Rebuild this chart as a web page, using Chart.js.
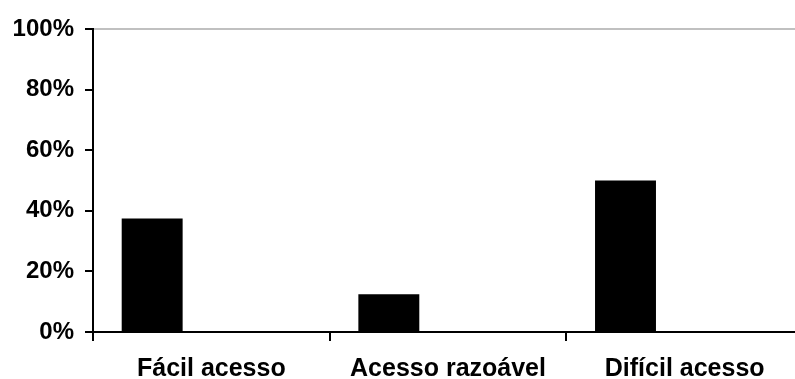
<!DOCTYPE html>
<html>
<head>
<meta charset="utf-8">
<script src="https://cdn.jsdelivr.net/npm/chart.js@4"></script>
<style>
  html, body { margin: 0; padding: 0; background: #fff; overflow: hidden; }
  #wrap { width: 805px; height: 379px; }
</style>
</head>
<body>
<div id="wrap"><canvas id="acessochart"></canvas></div>
<script>
const categories = ['Fácil acesso', 'Acesso razoável', 'Difícil acesso'];
const acessoValues = [37.5, 12.5, 50];
const emptyValues = [null, null, null];
const yTicks = [0, 20, 40, 60, 80, 100];

const acessodata = {
    labels: categories,
    datasets: [{
        label: 'Acesso',
        data: acessoValues,
        backgroundColor: '#000000',
        borderWidth: 0
    }, {
        label: '',
        data: emptyValues,
        backgroundColor: '#000000',
        borderWidth: 0
    }]
};

const acessoconfig = {
    type: 'bar',
    data: acessodata,
    options: {
        responsive: true,
        maintainAspectRatio: false,
        animation: false,
        categoryPercentage: 1,
        barPercentage: 0.515,
        layout: {
            padding: { top: 29, right: 2, bottom: 0, left: 0 }
        },
        scales: {
            y: {
                min: 0,
                max: 100,
                afterFit: function (scale) { scale.width = 93; },
                afterBuildTicks: function (scale) {
                    scale.ticks = yTicks.map(v => ({ value: v }));
                },
                ticks: {
                    color: '#000000',
                    padding: 11,
                    font: { family: "'Liberation Sans', Arial, sans-serif", size: 24, weight: 'bold' },
                    callback: v => v + '%'
                },
                grid: {
                    color: ctx => (ctx.tick && ctx.tick.value === 100) ? '#c0c0c0' : 'rgba(0,0,0,0)',
                    lineWidth: 2,
                    tickColor: '#000000',
                    tickLength: 8
                },
                border: { color: '#000000', width: 2 }
            },
            x: {
                afterFit: function (scale) { scale.height = 47; },
                ticks: {
                    color: '#000000',
                    padding: 13,
                    font: { family: "'Liberation Sans', Arial, sans-serif", size: 25, weight: 'bold' }
                },
                grid: {
                    offset: true,
                    drawOnChartArea: false,
                    tickColor: '#000000',
                    tickLength: 9,
                    lineWidth: 2
                },
                border: { color: '#000000', width: 2 }
            }
        },
        plugins: {
            legend: { display: false },
            tooltip: { enabled: false }
        }
    }
};

const acessochart = new Chart(
    document.getElementById('acessochart'),
    acessoconfig
);
</script>
</body>
</html>
